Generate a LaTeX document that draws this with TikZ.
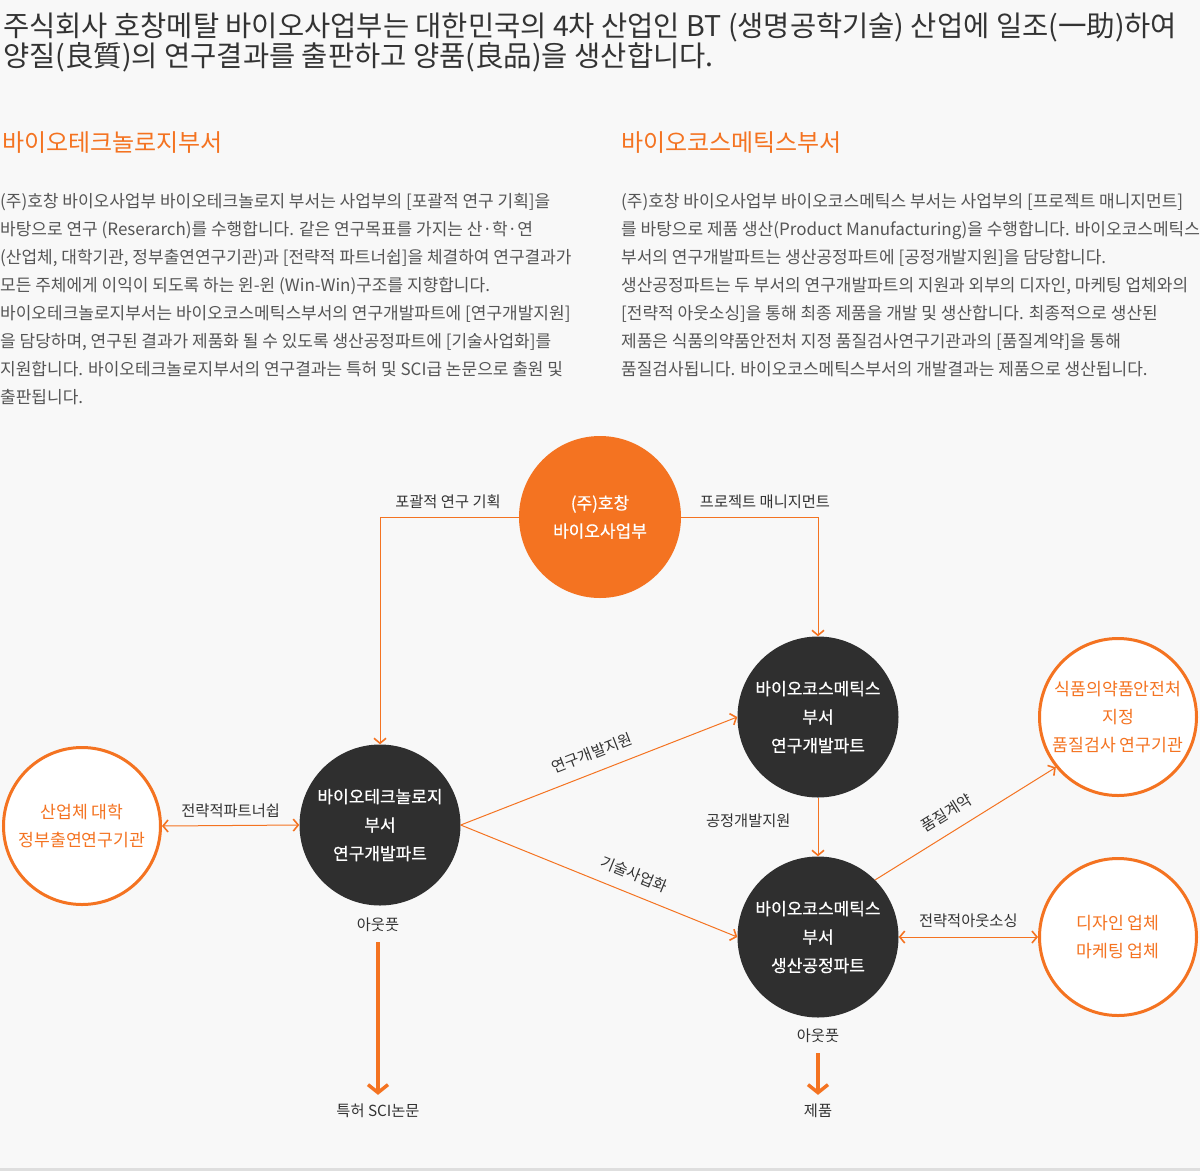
\documentclass[tikz,border=0pt]{standalone}
\usepackage{fontspec}
\setmainfont{Noto Sans CJK KR}
\newfontfamily\krmid[FakeBold=0.6]{Noto Sans CJK KR}
\usepackage{xcolor}
\usetikzlibrary{arrows.meta,positioning,calc}

\definecolor{hcorange}{HTML}{F47321}
\definecolor{hcdark}{HTML}{2F2F2F}
\definecolor{hctext}{HTML}{333333}
\definecolor{hcbody}{HTML}{555555}
\definecolor{hcbg}{HTML}{F8F8F8}

\tikzset{
  hub/.style={circle,fill=hcorange,text=white,minimum size=162pt,inner sep=0pt,
              align=center,font=\krmid\fontsize{17}{28}\selectfont},
  part/.style={circle,fill=hcdark,text=white,minimum size=161pt,inner sep=0pt,
               align=center,font=\krmid\fontsize{17}{28.5}\selectfont},
  partner/.style={circle,draw=hcorange,line width=3pt,fill=white,text=hcorange,
                  minimum size=157pt,inner sep=0pt,align=center,
                  font=\fontsize{17.2}{28}\selectfont},
  lbl/.style={text=hctext,inner sep=3pt,font=\fontsize{15.3}{17}\selectfont},
  barb/.tip={Straight Barb[length=5pt,width=12pt,line width=1.6pt]},
  flow/.style={draw=hcorange,line width=1pt,-barb},
  both/.style={draw=hcorange,line width=1pt,barb-barb},
  output/.style={draw=hcorange,line width=4pt,
                 -{Straight Barb[length=8pt,width=20pt,line width=3.5pt]}},
}

\begin{document}
\begin{tikzpicture}[x=1pt,y=-1pt]
  % 배경과 아래쪽 구분선
  \fill[hcbg] (0,0) rectangle (1200,1171);
  \useasboundingbox (0,0) rectangle (1200,1171);
  \fill[black!13] (0,1168) rectangle (1200,1171);

  % 소개 문단
  \node[anchor=north west,inner sep=0pt,align=left,text=hctext,
        font=\fontsize{28.5}{30}\selectfont] (intro) at (3,12)
    {주식회사 호창메탈 바이오사업부는 대한민국의 4차 산업인 BT (생명공학기술) 산업에 일조(一助)하여\\
     양질(良質)의 연구결과를 출판하고 양품(良品)을 생산합니다.};

  \node[anchor=west,inner sep=0pt,text=hcorange,font=\fontsize{24}{28}\selectfont]
    (biohead) at (2,143) {바이오테크놀로지부서};
  \node[anchor=north west,inner sep=0pt,align=left,text=hcbody,
        font=\fontsize{17}{28}\selectfont] (biotext) at (0,193.6)
    {(주)호창 바이오사업부 바이오테크놀로지 부서는 사업부의 [포괄적 연구 기획]을\\
     바탕으로 연구 (Reserarch)를 수행합니다. 같은 연구목표를 가지는 산·학·연\\
     (산업체, 대학기관, 정부출연연구기관)과 [전략적 파트너쉽]을 체결하여 연구결과가\\
     모든 주체에게 이익이 되도록 하는 윈-윈 (Win-Win)구조를 지향합니다.\\
     바이오테크놀로지부서는 바이오코스메틱스부서의 연구개발파트에 [연구개발지원]\\
     을 담당하며, 연구된 결과가 제품화 될 수 있도록 생산공정파트에 [기술사업화]를\\
     지원합니다. 바이오테크놀로지부서의 연구결과는 특허 및 SCI급 논문으로 출원 및\\
     출판됩니다.};

  \node[anchor=west,inner sep=0pt,text=hcorange,font=\fontsize{24}{28}\selectfont]
    (cosmohead) at (621,143) {바이오코스메틱스부서};
  \node[anchor=north west,inner sep=0pt,align=left,text=hcbody,
        font=\fontsize{17}{28}\selectfont] (cosmotext) at (621,193.6)
    {(주)호창 바이오사업부 바이오코스메틱스 부서는 사업부의 [프로젝트 매니지먼트]\\
     를 바탕으로 제품 생산(Product Manufacturing)을 수행합니다. 바이오코스메틱스\\
     부서의 연구개발파트는 생산공정파트에 [공정개발지원]을 담당합니다.\\
     생산공정파트는 두 부서의 연구개발파트의 지원과 외부의 디자인, 마케팅 업체와의\\
     {[}전략적 아웃소싱]을 통해 최종 제품을 개발 및 생산합니다. 최종적으로 생산된\\
     제품은 식품의약품안전처 지정 품질검사연구기관과의 [품질계약]을 통해\\
     품질검사됩니다. 바이오코스메틱스부서의 개발결과는 제품으로 생산됩니다.};

  % 조직도
  \node[hub] (hq) at (600,517) {(주)호창\\바이오사업부};
  \node[part] (biolab) at (380,825) {바이오테크놀로지\\부서\\연구개발파트};
  \node[part] (cosmolab) at (818,717) {바이오코스메틱스\\부서\\연구개발파트};
  \node[part] (cosmofab) at (818,937) {바이오코스메틱스\\부서\\생산공정파트};
  \node[partner] (academy) at (82,826) {산업체 대학\\정부출연연구기관};
  \node[partner] (kfda) at (1118,717) {식품의약품안전처\\지정\\품질검사 연구기관};
  \node[partner] (vendor) at (1118,937) {디자인 업체\\마케팅 업체};

  \node[lbl] at (448,502) {포괄적 연구 기획};
  \node[lbl] at (765,502) {프로젝트 매니지먼트};
  \draw[flow] (hq.west) -- (hq.west -| biolab.north) -- (biolab.north);
  \draw[flow] (hq.east) -- (hq.east -| cosmolab.north) -- (cosmolab.north);

  \draw[both] (academy.east) -- node[lbl,above=4pt] {전략적파트너쉽} (biolab.west);
  \draw[flow] (biolab.east) -- node[lbl,sloped,above=9pt] {연구개발지원} (cosmolab.west);
  \draw[flow] (biolab.east) -- node[lbl,sloped,above=9pt,pos=0.6] {기술사업화} (cosmofab.west);
  \draw[flow] (cosmolab.south) -- node[lbl,left=24pt,pos=0.4] {공정개발지원} (cosmofab.north);
  \draw[flow] (cosmofab.45) -- node[lbl,sloped,above=9pt,pos=0.45] {품질계약} (kfda.219);
  \draw[both] (cosmofab.east) -- node[lbl,above=6pt] {전략적아웃소싱} (vendor.west);

  % 결과물
  \node[lbl] (bioout) at (378,925) {아웃풋};
  \node[lbl] (paper) at (378,1111) {특허 SCI논문};
  \node[lbl] (cosmoout) at (818,1036) {아웃풋};
  \node[lbl] (product) at (818,1111) {제품};
  \draw[output,shorten <=7pt,shorten >=6pt] (bioout) -- (paper);
  \draw[output,shorten <=7pt,shorten >=6pt] (cosmoout) -- (product);
\end{tikzpicture}
\end{document}
